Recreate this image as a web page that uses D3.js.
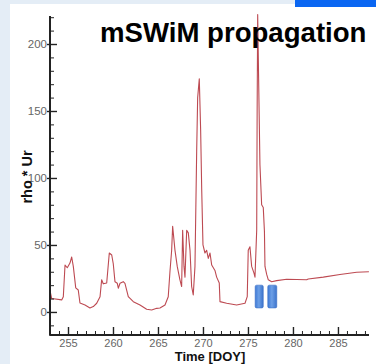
<!DOCTYPE html>
<html>
<head>
<meta charset="utf-8">
<script src="https://cdn.jsdelivr.net/npm/d3@7"></script>
<style>
  html, body { margin: 0; padding: 0; background: #fff; }
  svg { display: block; }
</style>
</head>
<body>
<svg id="chart" width="376" height="364"></svg>
<script>
// ---- data ----
const doy = [253.00,253.19,254.30,254.48,254.67,254.92,255.22,255.41,255.59,255.86,256.14,256.33,256.89,257.44,257.81,258.19,258.56,258.74,258.92,259.30,259.59,259.86,260.03,260.22,260.48,260.59,260.78,261.14,261.33,261.70,262.26,263.00,263.74,264.30,264.86,265.22,265.78,266.14,266.33,266.52,266.63,266.89,267.14,267.44,267.63,267.74,267.89,268.00,268.19,268.37,268.56,268.74,268.92,269.11,269.30,269.41,269.59,269.74,269.86,270.00,270.22,270.41,270.59,270.78,270.97,271.33,271.52,271.81,271.89,272.63,273.74,274.67,274.92,275.03,275.22,275.41,275.67,275.78,275.97,276.02,276.08,276.17,276.33,276.52,276.70,276.83,276.89,277.08,277.26,277.63,278.19,279.30,281.52,281.70,283.37,285.22,287.08,288.44];
const rhoUr = [16,10,9,11.4,35,33,36.5,41,34,18,16.4,6.7,5.2,3,4,6.5,11.4,24,21,21.6,44,42.5,36,22.6,21.4,17.7,21.4,22.6,21.4,11.4,7.7,5.2,2,1.5,2.7,3,5.2,11.4,30,46,64,46,34,24,19,61,34,26,61,59,46,19,12.7,34,120,160,174,136,91,50,44,46,40,44,35,31,26,21.6,7.7,6.5,5.2,6.5,11.4,46,48.7,34,29,26,61,150,222,180,110,80,78,60,34,28,24,22.6,23.4,24.4,24,24.6,26,28,29.6,30];
const markerStart = [275.8, 277.2];
const markerEnd   = [276.7, 278.2];
const markerLow = 3, markerHigh = 20;
const xMajorTicks = [255, 260, 265, 270, 275, 280, 285];
const yMajorTicks = [0, 50, 100, 150, 200];
const titleText = "mSWiM propagation";
const xLabel = "Time [DOY]";
const yLabel = "rho * Ur";

// ---- layout ----
const svg = d3.select("#chart");
const W = 376, H = 364;
const plotLeft = 50, plotRight = 369, plotTop = 16, plotBottom = 335;

// frame background
svg.append("rect").attr("x", 0).attr("y", 0).attr("width", W).attr("height", H).attr("fill", "#e4edf6");
svg.append("rect").attr("x", 10).attr("y", 4).attr("width", W - 10).attr("height", H - 4).attr("fill", "#ffffff");
svg.append("rect").attr("x", 295).attr("y", 0).attr("width", 81).attr("height", 7).attr("fill", "#0a66f2");

const x = d3.scaleLinear().domain([253, 288.45]).range([plotLeft, plotRight]);
const y = d3.scaleLinear().domain([-17.2, 220.9]).range([plotBottom, plotTop]);

// blue markers
const grad = svg.append("defs").append("linearGradient").attr("id", "bg").attr("x1", "0").attr("x2", "1").attr("y1", "0").attr("y2", "0");
grad.append("stop").attr("offset", "0").attr("stop-color", "#3f7ad6");
grad.append("stop").attr("offset", "0.45").attr("stop-color", "#6c9fe6");
grad.append("stop").attr("offset", "1").attr("stop-color", "#3b73cc");
svg.selectAll("rect.marker").data(markerStart).enter().append("rect")
  .attr("class", "marker")
  .attr("x", (d) => x(d))
  .attr("width", (d, i) => x(markerEnd[i]) - x(d))
  .attr("y", y(markerHigh))
  .attr("height", y(markerLow) - y(markerHigh))
  .attr("rx", 1.5)
  .attr("fill", "url(#bg)")
  .attr("stroke", "#3a6fc4").attr("stroke-width", 0.6);

// data line
const pts = doy.map((d, i) => [d, rhoUr[i]]);
svg.append("path").datum(pts)
  .attr("d", d3.line().x(d => x(d[0])).y(d => y(d[1])))
  .attr("fill", "none").attr("stroke", "#bd4a52").attr("stroke-width", 1.1)
  .attr("stroke-linejoin", "round");

// y axis
const axisColor = "#222";
const yAxisG = svg.append("g").attr("transform", `translate(${plotLeft},0)`);
yAxisG.call(d3.axisRight(y).tickValues(d3.range(-10, 221, 10).filter(v => v % 50 !== 0)).tickSize(4).tickFormat(""));
yAxisG.call(g => g.select(".domain").remove());
yAxisG.selectAll("line").attr("stroke", axisColor).attr("stroke-width", 1);
const yMaj = svg.append("g").attr("transform", `translate(${plotLeft + 7},0)`);
yMaj.call(d3.axisLeft(y).tickValues(yMajorTicks).tickSize(10).tickPadding(0));
yMaj.select(".domain").remove();
yMaj.selectAll("line").attr("stroke", axisColor).attr("stroke-width", 1.4);
yMaj.selectAll("text").attr("x", -10).attr("dx", 0)
  .attr("font-family", "Liberation Sans, Arial, sans-serif").attr("font-size", 11.5).attr("fill", "#666");
svg.append("line").attr("x1", plotLeft).attr("x2", plotLeft).attr("y1", plotTop).attr("y2", plotBottom + 0.7)
  .attr("stroke", axisColor).attr("stroke-width", 2);

// x axis
const xAxisMin = svg.append("g").attr("transform", `translate(0,${plotBottom})`);
xAxisMin.call(d3.axisTop(x).tickValues(d3.range(254, 289, 1).filter(v => v % 5 !== 0)).tickSize(4).tickFormat(""));
xAxisMin.select(".domain").remove();
xAxisMin.selectAll("line").attr("stroke", axisColor).attr("stroke-width", 1);
const xAxisMaj = svg.append("g").attr("transform", `translate(0,${plotBottom})`);
xAxisMaj.call(d3.axisTop(x).tickValues(xMajorTicks).tickSize(8));
xAxisMaj.select(".domain").remove();
xAxisMaj.selectAll("line").attr("stroke", axisColor).attr("stroke-width", 1.4);
xAxisMaj.selectAll("text").attr("y", 11.5).attr("dy", 0)
  .attr("font-family", "Liberation Sans, Arial, sans-serif").attr("font-size", 11).attr("fill", "#666");
svg.append("line").attr("x1", plotLeft).attr("x2", plotRight).attr("y1", plotBottom).attr("y2", plotBottom)
  .attr("stroke", axisColor).attr("stroke-width", 2);

// labels
svg.append("text").attr("x", 210).attr("y", 360.5).attr("text-anchor", "middle")
  .attr("font-family", "Liberation Sans, Arial, sans-serif").attr("font-weight", "bold").attr("font-size", 13)
  .attr("fill", "#111").text(xLabel);
svg.append("text").attr("transform", "translate(32,177) rotate(-90)").attr("text-anchor", "middle")
  .attr("font-family", "Liberation Sans, Arial, sans-serif").attr("font-weight", "bold").attr("font-size", 14.5)
  .attr("fill", "#111").text(yLabel);
svg.append("text").attr("x", 100).attr("y", 42)
  .attr("font-family", "Liberation Sans, Arial, sans-serif").attr("font-weight", "bold").attr("font-size", 27.6)
  .attr("fill", "#000").text(titleText);
</script>
</body>
</html>
